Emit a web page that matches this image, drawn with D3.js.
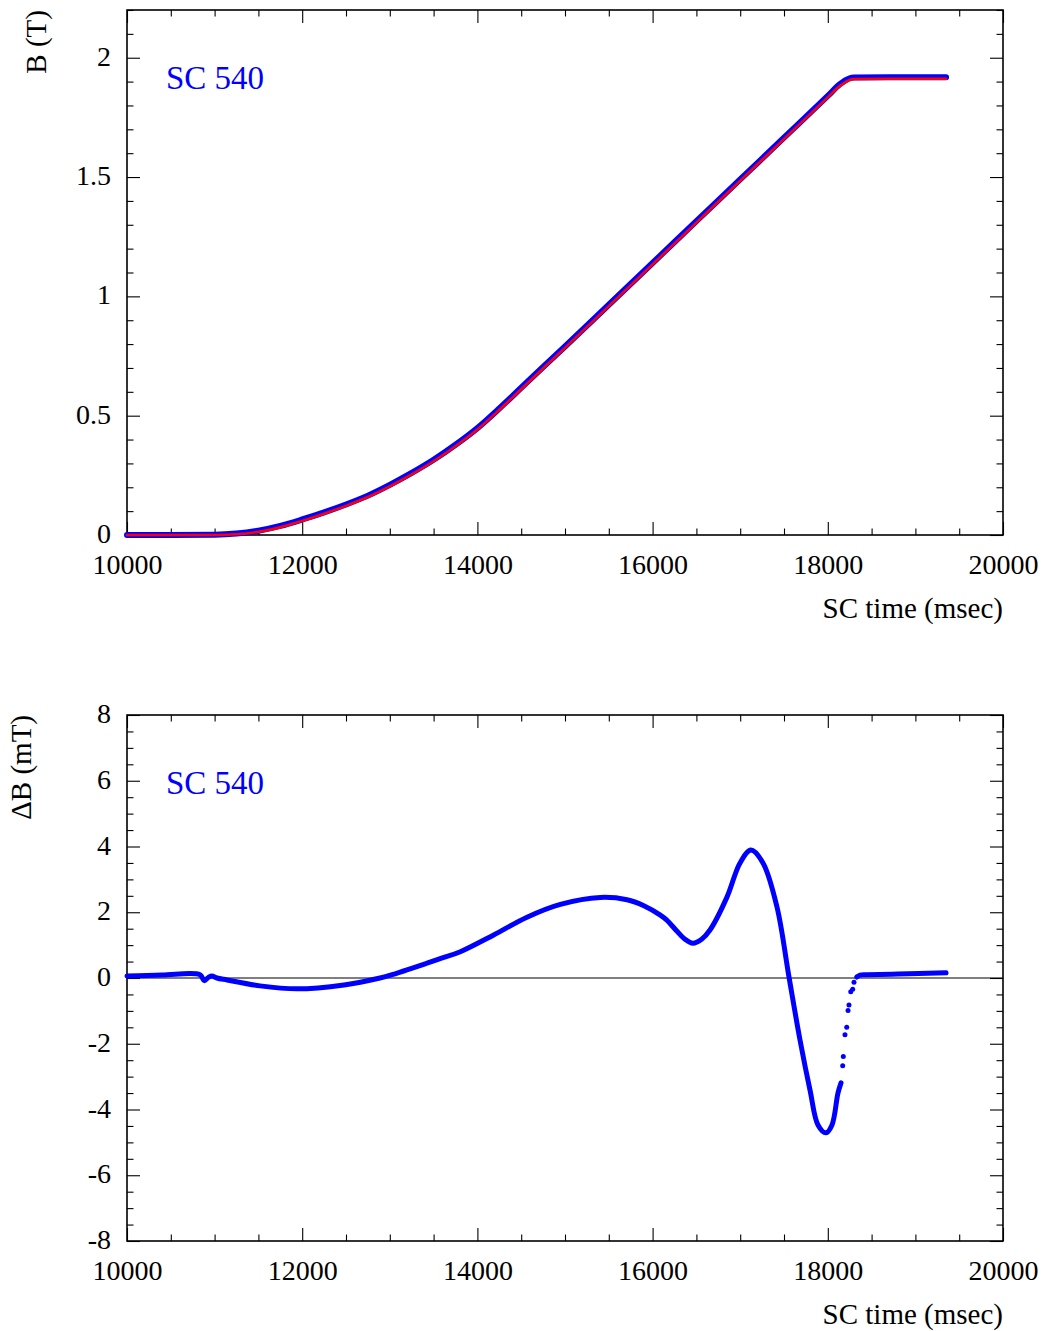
<!DOCTYPE html>
<html>
<head>
<meta charset="utf-8">
<script src="https://cdn.jsdelivr.net/npm/d3@7"></script>
<style>
  body { margin: 0; background: #fff; }
  svg { display: block; }
  text { font-family: "Liberation Serif", "Times New Roman", serif; }
</style>
</head>
<body>
<svg id="chart" width="1048" height="1331"></svg>
<script>
// ---- axis ticks ----
const timeTicks = [10000, 12000, 14000, 16000, 18000, 20000];
const fieldTicks = [0, 0.5, 1, 1.5, 2];
const deltaTicks = [-8, -6, -4, -2, 0, 2, 4, 6, 8];

// ---- magnet ramp: B field (T) vs SC time (ms) ----
const rampTime = [10000, 10500, 11000, 11250, 11500, 11750, 12000, 12250, 12500, 12750,
                  13000, 13250, 13500, 13750, 14000, 14250, 14500, 14750, 15000, 15500,
                  16000, 16500, 17000, 17500, 18000, 18139, 18200, 18250, 18300, 18700, 19350];
const fieldMeasured = [0, 0, 0.001, 0.006, 0.018, 0.038, 0.065, 0.095, 0.128, 0.165,
                       0.21, 0.26, 0.315, 0.378, 0.448, 0.53, 0.617, 0.704, 0.79, 0.965,
                       1.14, 1.315, 1.49, 1.665, 1.84, 1.889, 1.905, 1.914, 1.917, 1.918, 1.918];
const fieldReference = [0, 0, 0, 0.003, 0.013, 0.032, 0.059, 0.089, 0.122, 0.159,
                        0.204, 0.254, 0.309, 0.372, 0.442, 0.524, 0.611, 0.698, 0.784, 0.959,
                        1.134, 1.309, 1.484, 1.659, 1.834, 1.882, 1.897, 1.907, 1.911, 1.912, 1.912];

// ---- field difference (mT) ----
const deltaTime = [10000, 10400, 10833, 10882, 10930, 10970, 11027, 11142, 11518, 11941,
                   12477, 12888, 13000, 13425, 13600, 13805, 14186, 14566, 14947, 15403,
                   15708, 15900, 16084, 16162, 16279, 16360, 16461, 16560, 16655, 16849,
                   16998, 17123, 17260, 17420, 17557, 17683, 17797, 17888, 17979, 18048,
                   18116, 18151];
const deltaValue = [0.06, 0.09, 0.10, -0.08, 0.02, 0.06, 0.0, -0.06, -0.24, -0.33,
                    -0.21, 0.0, 0.08, 0.45, 0.61, 0.80, 1.31, 1.85, 2.24, 2.45,
                    2.38, 2.20, 1.92, 1.76, 1.42, 1.20, 1.06, 1.18, 1.46, 2.46,
                    3.50, 3.89, 3.50, 2.16, 0.03, -1.89, -3.41, -4.47, -4.71, -4.47,
                    -3.50, -3.19];
const jumpTime = [18170, 18177, 18196, 18216, 18231, 18242, 18262, 18284, 18299];
const jumpValue = [-2.67, -2.39, -1.73, -1.50, -0.99, -0.82, -0.42, -0.34, -0.13];
const flatTime = [18330, 18368, 18450, 18800, 19350];
const flatValue = [0.03, 0.09, 0.10, 0.12, 0.16];

const svg = d3.select("#chart");
const left = 127, right = 1003;
const blue = "#0000ff", red = "#ff0000";
const serif = "Liberation Serif";

const x = d3.scaleLinear().domain([10000, 20000]).range([left, right]);

function panel(top, bottom, yDomain, yMajor, yMinorStep, yTitle, yTitleX) {
  const y = d3.scaleLinear().domain(yDomain).range([bottom, top]);
  const g = svg.append("g");
  const xMinor = d3.range(10000, 20001, 500).filter(v => v % 2000 !== 0);
  const yMinor = d3.range(yDomain[0], yDomain[1] + 1e-9, yMinorStep)
    .map(v => +v.toFixed(3))
    .filter(v => !yMajor.some(m => Math.abs(m - v) < 1e-6));

  const strip = sel => {
    sel.attr("font-family", serif);
    sel.select(".domain").remove();
    sel.selectAll("line").attr("stroke", "#000").attr("stroke-width", 1.1);
  };

  // bottom axis with labels
  g.append("g").attr("transform", `translate(0,${bottom})`)
    .call(d3.axisBottom(x).tickValues(timeTicks).tickSize(-13).tickFormat(d => String(d)))
    .call(strip)
    .call(s => s.selectAll("text").attr("dy", null).attr("y", 39)
      .attr("font-size", 28).attr("fill", "#000"));
  g.append("g").attr("transform", `translate(0,${bottom})`)
    .call(d3.axisBottom(x).tickValues(xMinor).tickSize(-6.5).tickFormat(""))
    .call(strip);
  // top axis ticks
  g.append("g").attr("transform", `translate(0,${top})`)
    .call(d3.axisTop(x).tickValues(timeTicks).tickSize(-13).tickFormat(""))
    .call(strip);
  g.append("g").attr("transform", `translate(0,${top})`)
    .call(d3.axisTop(x).tickValues(xMinor).tickSize(-6.5).tickFormat(""))
    .call(strip);
  // left axis with labels
  g.append("g").attr("transform", `translate(${left},0)`)
    .call(d3.axisLeft(y).tickValues(yMajor).tickSize(-13).tickPadding(16).tickFormat(d => String(d)))
    .call(strip)
    .call(s => s.selectAll("text").attr("dy", "0.27em")
      .attr("font-size", 28).attr("fill", "#000"));
  g.append("g").attr("transform", `translate(${left},0)`)
    .call(d3.axisLeft(y).tickValues(yMinor).tickSize(-6.5).tickFormat(""))
    .call(strip);
  // right axis ticks
  g.append("g").attr("transform", `translate(${right},0)`)
    .call(d3.axisRight(y).tickValues(yMajor).tickSize(-13).tickFormat(""))
    .call(strip);
  g.append("g").attr("transform", `translate(${right},0)`)
    .call(d3.axisRight(y).tickValues(yMinor).tickSize(-6.5).tickFormat(""))
    .call(strip);

  // frame
  g.append("rect").attr("x", left).attr("y", top)
    .attr("width", right - left).attr("height", bottom - top)
    .attr("fill", "none").attr("stroke", "#000").attr("stroke-width", 1.6);

  // axis titles
  g.append("text").attr("x", right).attr("y", bottom + 83)
    .attr("text-anchor", "end").attr("font-size", 29).text("SC time (msec)");
  g.append("text")
    .attr("transform", `translate(${yTitleX},${top}) rotate(-90)`)
    .attr("text-anchor", "end").attr("font-size", 29).text(yTitle);

  // run label
  g.append("text").attr("x", 166).attr("y", top + 79)
    .attr("font-size", 33).attr("fill", blue).text("SC 540");

  return { g, y };
}

// ---- top panel: B field ----
const p1 = panel(10, 535, [0, 2.2], fieldTicks, 0.1, "B (T)", 46);
const line1 = d3.line().x(d => x(d[0])).y(d => p1.y(d[1])).curve(d3.curveMonotoneX);
p1.g.append("path").datum(d3.zip(rampTime, fieldMeasured))
  .attr("d", line1).attr("fill", "none").attr("stroke", blue)
  .attr("stroke-width", 6).attr("stroke-linecap", "round");
p1.g.append("path").datum(d3.zip(rampTime, fieldReference))
  .attr("d", line1).attr("fill", "none").attr("stroke", red)
  .attr("stroke-width", 2.6).attr("stroke-linecap", "round");

// ---- bottom panel: field difference ----
const p2 = panel(715, 1241, [-8, 8], deltaTicks, 0.5, "\u0394B (mT)", 31);
p2.g.append("line")
  .attr("x1", left).attr("x2", right)
  .attr("y1", p2.y(0)).attr("y2", p2.y(0))
  .attr("stroke", "#000").attr("stroke-width", 1.1);
const line2 = d3.line().x(d => x(d[0])).y(d => p2.y(d[1])).curve(d3.curveCatmullRom.alpha(0.5));
[[deltaTime, deltaValue], [flatTime, flatValue]].forEach(([t, v]) => {
  p2.g.append("path").datum(d3.zip(t, v))
    .attr("d", line2).attr("fill", "none").attr("stroke", blue)
    .attr("stroke-width", 5).attr("stroke-linecap", "round").attr("stroke-linejoin", "round");
});
p2.g.selectAll("circle.jump").data(d3.zip(jumpTime, jumpValue)).join("circle")
  .attr("class", "jump")
  .attr("cx", d => x(d[0])).attr("cy", d => p2.y(d[1]))
  .attr("r", 2.5).attr("fill", blue);
</script>
</body>
</html>
